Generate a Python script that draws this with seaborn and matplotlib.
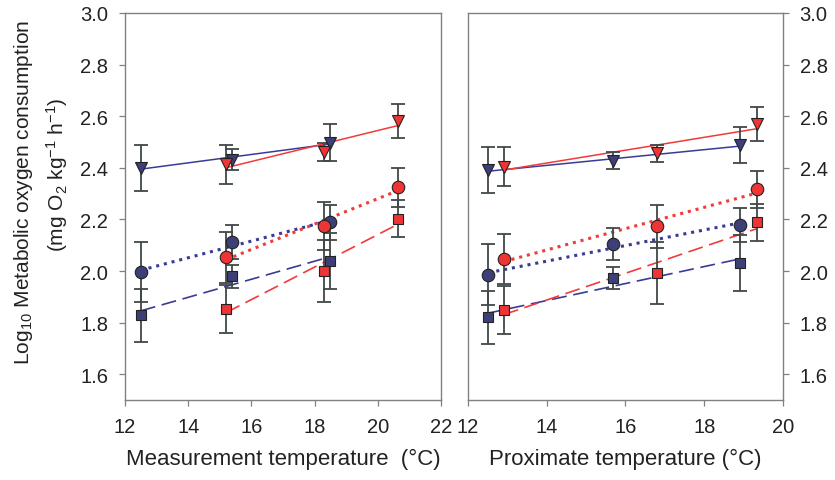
import numpy as np
import pandas as pd
import matplotlib
matplotlib.use("Agg")
import matplotlib.pyplot as plt
import seaborn as sns

sns.set_style("ticks")
plt.rcParams['font.family'] = ['Liberation Sans', 'DejaVu Sans']
plt.rcParams['mathtext.fontset'] = 'custom'
plt.rcParams['mathtext.rm'] = 'Liberation Sans'
plt.rcParams['mathtext.it'] = 'Liberation Sans'

# --- data ---
# left panel: measurement temperature
meas_blue_x = [12.5, 15.4, 18.5]
meas_red_x = [15.2, 18.3, 20.65]
meas_blue_tri = [2.400, 2.432, 2.497]
meas_blue_tri_err = [0.090, 0.039, 0.072]
meas_red_tri = [2.414, 2.462, 2.582]
meas_red_tri_err = [0.075, 0.035, 0.065]
meas_blue_circ = [1.995, 2.112, 2.189]
meas_blue_circ_err = [0.117, 0.067, 0.067]
meas_red_circ = [2.053, 2.176, 2.324]
meas_red_circ_err = [0.100, 0.093, 0.074]
meas_blue_sq = [1.829, 1.979, 2.040]
meas_blue_sq_err = [0.103, 0.046, 0.108]
meas_red_sq = [1.854, 1.999, 2.202]
meas_red_sq_err = [0.093, 0.120, 0.072]

# right panel: proximate temperature
prox_blue_x = [12.52, 15.69, 18.90]
prox_red_x = [12.91, 16.79, 19.35]
prox_blue_tri = [2.391, 2.427, 2.488]
prox_blue_tri_err = [0.088, 0.033, 0.070]
prox_red_tri = [2.404, 2.456, 2.571]
prox_red_tri_err = [0.075, 0.032, 0.066]
prox_blue_circ = [1.986, 2.104, 2.179]
prox_blue_circ_err = [0.118, 0.063, 0.067]
prox_red_circ = [2.046, 2.173, 2.317]
prox_red_circ_err = [0.098, 0.083, 0.072]
prox_blue_sq = [1.821, 1.973, 2.031]
prox_blue_sq_err = [0.102, 0.043, 0.107]
prox_red_sq = [1.847, 1.992, 2.189]
prox_red_sq_err = [0.093, 0.120, 0.071]

y_ticks = [1.6, 1.8, 2.0, 2.2, 2.4, 2.6, 2.8, 3.0]
y_tick_labels = ['1.6', '1.8', '2.0', '2.2', '2.4', '2.6', '2.8', '3.0']

BLUE_FACE = '#3d3f78'
BLUE_LINE = '#3a3c94'
RED_FACE = '#ee3434'
RED_LINE = '#f23a3a'
ERR = '#404848'
SPINE = '#808080'
TXT = '#222222'

dotted = (0, (1, 1.6))
dashed = (0, (9, 4))


def draw_series(ax, x, y, err, marker, face, line, ls, lw, ms):
    df = pd.DataFrame({'x': x, 'y': y})
    # fitted regression line over the data range
    sns.regplot(data=df, x='x', y='y', ax=ax, scatter=False, ci=None, truncate=True,
                line_kws=dict(color=line, linestyle=ls, linewidth=lw, zorder=2))
    ax.errorbar(x, y, yerr=err, fmt='none', ecolor=ERR, elinewidth=1.3,
                capsize=5, capthick=1.3, zorder=3)
    ax.plot(x, y, linestyle='none', marker=marker, markersize=ms,
            markerfacecolor=face, markeredgecolor='#222222', markeredgewidth=0.8, zorder=4)


fig = plt.figure(figsize=(8.35, 4.81), dpi=100)
ax1 = fig.add_axes([0.1497, 0.1663, 0.3784, 0.8046])
ax2 = fig.add_axes([0.5605, 0.1663, 0.3772, 0.8046])

panels = [
    (ax1, meas_blue_x, meas_red_x,
     (meas_blue_tri, meas_blue_tri_err), (meas_red_tri, meas_red_tri_err),
     (meas_blue_circ, meas_blue_circ_err), (meas_red_circ, meas_red_circ_err),
     (meas_blue_sq, meas_blue_sq_err), (meas_red_sq, meas_red_sq_err)),
    (ax2, prox_blue_x, prox_red_x,
     (prox_blue_tri, prox_blue_tri_err), (prox_red_tri, prox_red_tri_err),
     (prox_blue_circ, prox_blue_circ_err), (prox_red_circ, prox_red_circ_err),
     (prox_blue_sq, prox_blue_sq_err), (prox_red_sq, prox_red_sq_err)),
]

for ax, bx, rx, btri, rtri, bcirc, rcirc, bsq, rsq in panels:
    draw_series(ax, bx, btri[0], btri[1], 'v', BLUE_FACE, BLUE_LINE, '-', 1.1, 9)
    draw_series(ax, rx, rtri[0], rtri[1], 'v', RED_FACE, RED_LINE, '-', 1.1, 9)
    draw_series(ax, bx, bcirc[0], bcirc[1], 'o', BLUE_FACE, BLUE_LINE, dotted, 2.2, 9)
    draw_series(ax, rx, rcirc[0], rcirc[1], 'o', RED_FACE, RED_LINE, dotted, 2.2, 9)
    draw_series(ax, bx, bsq[0], bsq[1], 's', BLUE_FACE, BLUE_LINE, dashed, 1.2, 7.5)
    draw_series(ax, rx, rsq[0], rsq[1], 's', RED_FACE, RED_LINE, dashed, 1.2, 7.5)
    ax.set_ylim(1.5, 3.0)
    ax.set_yticks(y_ticks)
    ax.set_yticklabels(y_tick_labels)
    ax.set_ylabel('')
    for s in ax.spines.values():
        s.set_visible(True)
        s.set_color(SPINE)
        s.set_linewidth(1.0)
    ax.tick_params(direction='out', length=4, width=0.9, color=SPINE,
                   labelsize=14.5, labelcolor=TXT)
    ax.tick_params(axis='x', pad=8)
    ax.tick_params(axis='y', pad=8)
    ax.set_facecolor('white')

ax1.set_xlim(12, 22)
ax1.set_xticks([12, 14, 16, 18, 20, 22])
ax1.set_xlabel('Measurement temperature  (°C)', fontsize=16, color=TXT, labelpad=9)

ax2.set_xlim(12, 20)
ax2.set_xticks([12, 14, 16, 18, 20])
ax2.set_xlabel('Proximate temperature (°C)', fontsize=16, color=TXT, labelpad=9)
ax2.yaxis.tick_right()

fig.text(0.0287, 0.6008, 'Log$_{10}$ Metabolic oxygen consumption', rotation=90,
         ha='center', va='center', fontsize=15, color=TXT)
fig.text(0.0683, 0.6362, '(mg O$_2$ kg$^{-1}$ h$^{-1}$)', rotation=90,
         ha='center', va='center', fontsize=15, color=TXT)

fig.savefig('out.png', dpi=100, facecolor='white')
